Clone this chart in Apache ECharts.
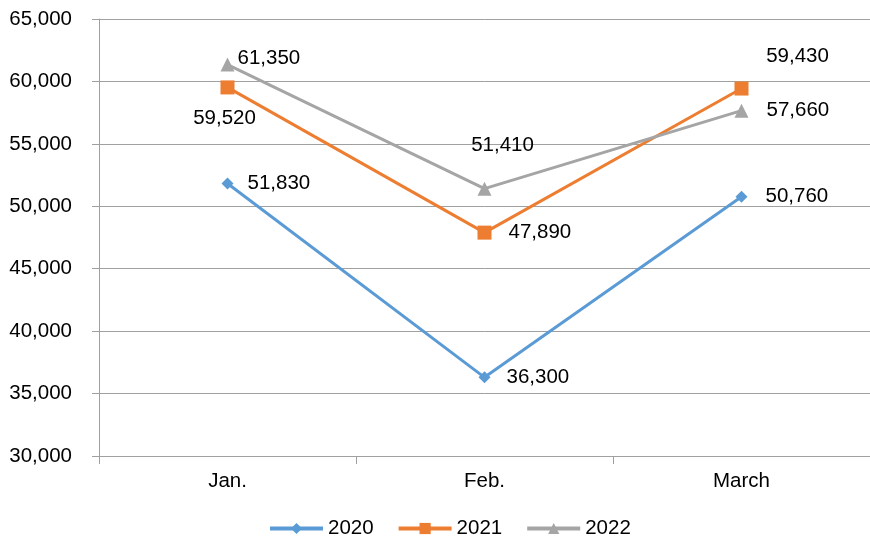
<!DOCTYPE html>
<html>
<head>
<meta charset="utf-8">
<script src="https://cdn.jsdelivr.net/npm/echarts@6/dist/echarts.min.js"></script>
<style>
  html, body { margin: 0; padding: 0; background: #fff; }
  #chart { width: 870px; height: 536px; }
</style>
</head>
<body>
<div id="chart"></div>
<script>
var months = ["Jan.", "Feb.", "March"];
var values2020 = [51830, 36300, 50760];
var values2021 = [59520, 47890, 59430];
var values2022 = [61350, 51410, 57660];

var fontName = "Liberation Sans";
var fontSize = 20.5;

function fmt(p) {
    return p.value.toLocaleString("en-US");
}

// label placement for each point, in the same order as the months
var labels2020 = [
    {position: "right", distance: 14},
    {position: "right", distance: 16},
    {position: "right", distance: 18}
];
var labels2021 = [
    {position: "bottom", distance: 13, offset: [-3, 0]},
    {position: "right", distance: 17},
    {position: "top", distance: 5, offset: [56, -10]}
];
var labels2022 = [
    {position: "right", distance: 3, offset: [0, -6]},
    {position: "top", distance: 5, offset: [18, -21]},
    {position: "right", distance: 18}
];

function makeSeries(name, values, labels, color, symbol, size) {
    var data = [];
    for (var i = 0; i < values.length; i++) {
        data.push({value: values[i], label: labels[i]});
    }
    return {
        name: name,
        type: "line",
        data: data,
        symbol: symbol,
        symbolSize: size,
        color: color,
        lineStyle: {width: 3, color: color},
        itemStyle: {color: color},
        label: {
            show: true,
            formatter: fmt,
            color: "#000",
            fontFamily: fontName,
            fontSize: fontSize
        },
        animation: false
    };
}

var option = {
    backgroundColor: "#fff",
    animation: false,
    grid: {left: 99, right: 0, top: 19, bottom: 80},
    legend: {
        top: 513,
        left: 263,
        itemWidth: 53,
        itemHeight: 14,
        itemGap: 23,
        lineStyle: {width: 4},
        textStyle: {fontFamily: fontName, fontSize: fontSize, color: "#000"},
        data: ["2020", "2021", "2022"]
    },
    xAxis: {
        type: "category",
        data: months,
        boundaryGap: true,
        axisLine: {lineStyle: {color: "#a0a0a0", width: 1}},
        axisTick: {show: true, length: 8, lineStyle: {color: "#a0a0a0"}},
        axisLabel: {fontFamily: fontName, fontSize: fontSize, color: "#000", margin: 15}
    },
    yAxis: {
        type: "value",
        min: 30000,
        max: 65000,
        interval: 5000,
        axisLine: {show: true, lineStyle: {color: "#a0a0a0", width: 1}},
        axisTick: {show: true, length: 7, lineStyle: {color: "#a0a0a0"}},
        splitLine: {lineStyle: {color: "#a0a0a0", width: 1}},
        axisLabel: {
            fontFamily: fontName, fontSize: fontSize, color: "#000", margin: 27,
            formatter: function (v) { return v.toLocaleString("en-US"); }
        }
    },
    series: [
        makeSeries("2020", values2020, labels2020, "#5b9bd5", "diamond", 12),
        makeSeries("2021", values2021, labels2021, "#ed7d31", "rect", 14),
        makeSeries("2022", values2022, labels2022, "#a5a5a5", "triangle", 14)
    ]
};

var chart = echarts.init(document.getElementById("chart"));
chart.setOption(option);
</script>
</body>
</html>
